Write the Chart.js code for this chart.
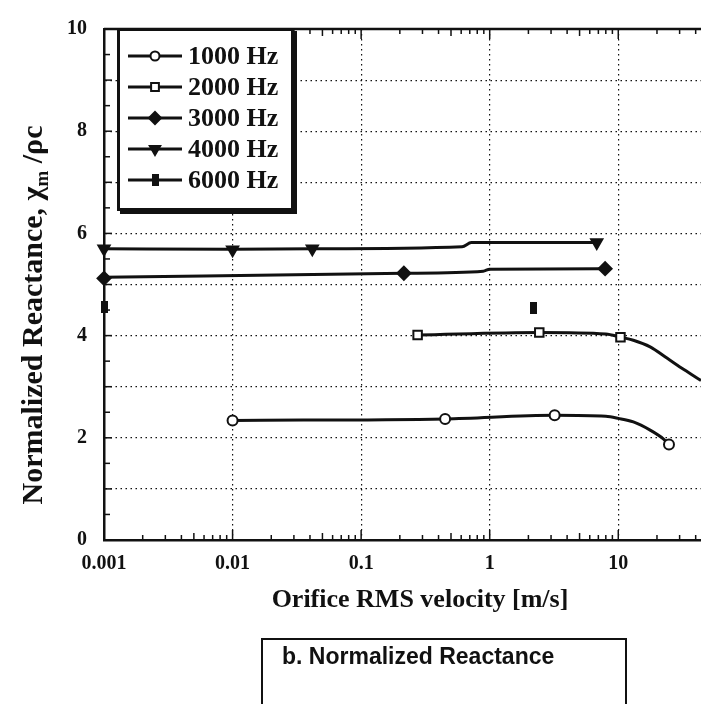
<!DOCTYPE html>
<html>
<head>
<meta charset="utf-8">
<title>Normalized Reactance</title>
<script src="https://cdn.jsdelivr.net/npm/chart.js@4.4.1/dist/chart.umd.min.js"></script>
<style>
  html, body { margin: 0; padding: 0; background: #fff; }
  #wrap { position: relative; width: 701px; height: 704px; overflow: hidden; }
  #caption {
    position: absolute; left: 261px; top: 638px; width: 366px; height: 90px;
    border: 2px solid #111; box-sizing: border-box;
    font: bold 23px "Liberation Sans", Arial, sans-serif; line-height: 26px;
    padding: 3px 0 0 19px; color: #111;
  }
</style>
</head>
<body>
<div id="wrap">
  <canvas id="reactanceChart" width="701" height="704"></canvas>
  <div id="caption">b. Normalized Reactance</div>
</div>
<script>
// axis ticks
const velocityTicks = [0.001, 0.01, 0.1, 1, 10];
const velocityLabels = ['0.001', '0.01', '0.1', '1', '10'];
const reactanceTicks = [0, 2, 4, 6, 8, 10];

const seriesNames = ['1000 Hz', '2000 Hz', '3000 Hz', '4000 Hz', '6000 Hz'];

// measured points (velocity m/s, normalized reactance)
const v1000 = [0.01, 0.45, 3.2, 24.8];
const x1000 = [2.34, 2.37, 2.44, 1.87];
const v2000 = [0.275, 2.43, 10.4];
const x2000 = [4.01, 4.06, 3.97];
const v3000 = [0.001, 0.215, 7.9];
const x3000 = [5.12, 5.22, 5.31];
const v4000 = [0.001, 0.01, 0.0417, 6.8];
const x4000 = [5.70, 5.68, 5.70, 5.82];
const v6000 = [0.001, 2.19];
const x6000 = [4.55, 4.54];

// fitted curves
const fitV1000 = [0.01, 0.45, 3.2, 8, 10, 13.1, 17.7, 22.4, 24.8];
const fitX1000 = [2.34, 2.37, 2.44, 2.42, 2.38, 2.31, 2.15, 1.98, 1.87];
const fitV2000 = [0.275, 2.43, 8, 10.4, 13.1, 17.7, 23.9, 32.6, 44];
const fitX2000 = [4.01, 4.06, 4.03, 3.97, 3.91, 3.78, 3.56, 3.33, 3.12];
const fitV3000 = [0.001, 0.215, 0.89, 1.0, 7.9];
const fitX3000 = [5.14, 5.22, 5.26, 5.30, 5.31];
const fitV4000 = [0.001, 0.01, 0.0417, 0.61, 0.72, 6.8];
const fitX4000 = [5.70, 5.69, 5.70, 5.74, 5.82, 5.82];

const pts = (xs, ys) => xs.map((v, i) => ({ x: v, y: ys[i] }));

const serif = "'Liberation Serif', 'Times New Roman', serif";
const ink = '#111';

// tall filled square used for 6000 Hz
const tallSquare = document.createElement('canvas');
tallSquare.width = 7;
tallSquare.height = 12;
const tctx = tallSquare.getContext('2d');
tctx.fillStyle = ink;
tctx.fillRect(0, 0, 7, 12);

const markerStyles = [
  { pointStyle: 'circle', radius: 5, fill: '#fff', rotation: 0 },
  { pointStyle: 'rect', radius: 6, fill: '#fff', rotation: 0 },
  { pointStyle: 'rectRot', radius: 6.5, fill: ink, rotation: 0 },
  { pointStyle: 'triangle', radius: 6.5, fill: ink, rotation: 180 },
  { pointStyle: tallSquare, radius: 6, fill: ink, rotation: 0 }
];

const markerData = [pts(v1000, x1000), pts(v2000, x2000), pts(v3000, x3000), pts(v4000, x4000), pts(v6000, x6000)];
const fitData = [pts(fitV1000, fitX1000), pts(fitV2000, fitX2000), pts(fitV3000, fitX3000), pts(fitV4000, fitX4000)];

const datasets = [];
fitData.forEach((d, i) => {
  datasets.push({
    label: seriesNames[i] + ' fit',
    data: d,
    borderColor: ink,
    borderWidth: 3,
    pointRadius: 0,
    cubicInterpolationMode: 'monotone',
    fill: false,
    order: 2
  });
});
markerData.forEach((d, i) => {
  const m = markerStyles[i];
  datasets.push({
    label: seriesNames[i],
    data: d,
    showLine: false,
    pointStyle: m.pointStyle,
    pointRadius: m.radius,
    pointRotation: m.rotation,
    pointBackgroundColor: m.fill,
    pointBorderColor: ink,
    pointBorderWidth: 2,
    clip: false,
    order: 1
  });
});

const framePlugin = {
  id: 'frame',
  afterDraw(chart) {
    const { ctx, chartArea: a, scales: { x, y } } = chart;
    const line = (x1, y1, x2, y2) => { ctx.beginPath(); ctx.moveTo(x1, y1); ctx.lineTo(x2, y2); ctx.stroke(); };
    ctx.save();
    ctx.strokeStyle = ink;

    // top frame line
    ctx.lineWidth = 2.5;
    line(a.left, a.top, a.right, a.top);

    // inward tick marks
    ctx.lineWidth = 1.5;
    for (let v = 0; v <= 10; v += 0.5) {
      const py = y.getPixelForValue(v);
      line(a.left, py, a.left + (v % 1 === 0 ? 8 : 6), py);
    }
    velocityTicks.forEach(d => {
      for (let m = 1; m <= 9; m++) {
        const v = d * m;
        if (v > x.max) break;
        const px = x.getPixelForValue(v);
        const len = m === 1 ? 10 : (m === 5 ? 7 : 5);
        line(px, a.bottom, px, a.bottom - len);
        line(px, a.top, px, a.top + len);
      }
    });

    // axis titles
    ctx.fillStyle = ink;
    ctx.textBaseline = 'alphabetic';
    ctx.textAlign = 'center';
    ctx.font = 'bold 26px ' + serif;
    ctx.fillText('Orifice RMS velocity [m/s]', 420, 607);

    const big = 'bold 30px ' + serif;
    const small = 'bold 19px ' + serif;
    const p1 = 'Normalized Reactance, \u03C7', p2 = 'm', p3 = ' /\u03C1c';
    ctx.font = big;
    const w1 = ctx.measureText(p1).width, w3 = ctx.measureText(p3).width;
    ctx.font = small;
    const w2 = ctx.measureText(p2).width;
    const total = w1 + w2 + w3;
    ctx.save();
    ctx.translate(42, 315);
    ctx.rotate(-Math.PI / 2);
    ctx.textAlign = 'left';
    let x0 = -total / 2;
    ctx.font = big;
    ctx.fillText(p1, x0, 0);
    ctx.font = small;
    ctx.fillText(p2, x0 + w1, 6);
    ctx.font = big;
    ctx.fillText(p3, x0 + w1 + w2, 0);
    ctx.restore();

    // legend box with drop shadow
    ctx.fillStyle = ink;
    ctx.fillRect(117, 28, 177, 183);
    ctx.fillRect(120, 31, 177, 183);
    ctx.fillStyle = '#fff';
    ctx.fillRect(120, 31, 171, 177);

    ctx.font = 'bold 26px ' + serif;
    ctx.textAlign = 'left';
    ctx.textBaseline = 'middle';
    seriesNames.forEach((name, i) => {
      const ry = 56 + i * 31;
      ctx.strokeStyle = ink;
      ctx.lineWidth = 3;
      line(128, ry, 182, ry);
      const m = markerStyles[i];
      ctx.fillStyle = m.fill;
      ctx.lineWidth = 2;
      Chart.helpers.drawPoint(ctx, { pointStyle: m.pointStyle, radius: m.radius - 0.5, rotation: m.rotation, borderWidth: 2 }, 155, ry);
      ctx.fillStyle = ink;
      ctx.fillText(name, 188, ry + 1);
    });
    ctx.restore();
  }
};

const gridOpts = { color: ink, lineWidth: 1.2, drawTicks: false };
const borderOpts = { display: true, color: ink, width: 2.5, dash: [1.5, 3.5] };

const ctx = document.getElementById('reactanceChart').getContext('2d');
const reactanceChart = new Chart(ctx, {
  type: 'line',
  data: { datasets: datasets },
  options: {
    responsive: false,
    animation: false,
    layout: { autoPadding: false, padding: { top: 20, right: 0, left: 0, bottom: 0 } },
    plugins: { legend: { display: false }, tooltip: { enabled: false } },
    scales: {
      x: {
        type: 'logarithmic',
        min: 0.001,
        max: 44,
        afterBuildTicks: s => { s.ticks = velocityTicks.map(v => ({ value: v })); },
        afterFit: s => { s.height = 164; },
        ticks: {
          autoSkip: false,
          maxRotation: 0,
          padding: 12,
          color: ink,
          font: { family: serif, size: 20, weight: 'bold' },
          callback: v => {
            const i = velocityTicks.indexOf(v);
            return i >= 0 ? velocityLabels[i] : '';
          }
        },
        grid: gridOpts,
        border: borderOpts
      },
      y: {
        min: 0,
        max: 10,
        afterBuildTicks: s => {
          const t = [];
          for (let v = 0; v <= 10; v++) t.push({ value: v });
          s.ticks = t;
        },
        afterFit: s => { s.width = 104; },
        ticks: {
          padding: 17,
          color: ink,
          font: { family: serif, size: 20, weight: 'bold' },
          callback: v => reactanceTicks.includes(v) ? String(v) : ''
        },
        grid: gridOpts,
        border: borderOpts
      }
    }
  },
  plugins: [framePlugin]
});
</script>
</body>
</html>
